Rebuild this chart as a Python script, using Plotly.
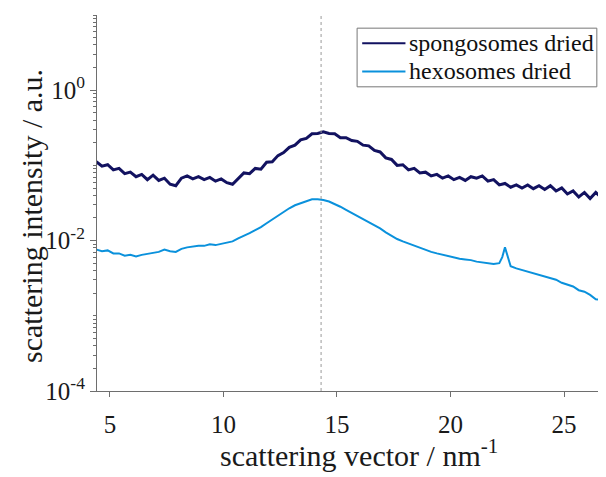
import plotly.graph_objects as go

# scattering vector (nm^-1) for spongosomes dried
q_spongo = [4.40, 4.65, 4.90, 5.15, 5.40, 5.65, 5.90, 6.15, 6.40, 6.65, 6.90, 7.15, 7.40, 7.65, 7.90,
            8.15, 8.40, 8.65, 8.90, 9.15, 9.40, 9.65, 9.90, 10.15, 10.40, 10.65, 10.90, 11.15, 11.40,
            11.65, 11.90, 12.15, 12.40, 12.65, 12.90, 13.15, 13.40, 13.65, 13.90, 14.15, 14.40, 14.65,
            14.90, 15.15, 15.40, 15.65, 15.90, 16.15, 16.40, 16.65, 16.90, 17.15, 17.40, 17.65, 17.90,
            18.15, 18.40, 18.65, 18.90, 19.15, 19.40, 19.65, 19.90, 20.15, 20.40, 20.65, 20.90, 21.15,
            21.40, 21.65, 21.90, 22.15, 22.40, 22.65, 22.90, 23.15, 23.40, 23.65, 23.90, 24.15, 24.40,
            24.65, 24.90, 25.15, 25.40, 25.65, 25.90, 26.15, 26.40, 26.65, 26.90]
i_spongo = [0.112, 0.0977, 0.102, 0.0871, 0.0912, 0.0776, 0.0813, 0.0708, 0.0759, 0.0646, 0.0741,
            0.0631, 0.0676, 0.0562, 0.0537, 0.0676, 0.0724, 0.0661, 0.0708, 0.0646, 0.0692, 0.0617,
            0.0661, 0.0589, 0.0562, 0.0661, 0.0794, 0.0776, 0.0912, 0.0891, 0.110, 0.112, 0.135,
            0.148, 0.174, 0.186, 0.219, 0.229, 0.263, 0.266, 0.279, 0.266, 0.263, 0.234, 0.234,
            0.214, 0.209, 0.186, 0.182, 0.158, 0.151, 0.126, 0.120, 0.100, 0.102, 0.0871, 0.0912,
            0.0794, 0.0813, 0.0724, 0.0759, 0.0676, 0.0724, 0.0646, 0.0692, 0.0631, 0.0708, 0.0676,
            0.0724, 0.0617, 0.0646, 0.0550, 0.0575, 0.0513, 0.0550, 0.0501, 0.0550, 0.0490, 0.0537,
            0.0479, 0.0537, 0.0457, 0.0501, 0.0417, 0.0457, 0.0380, 0.0437, 0.0363, 0.0437, 0.0372,
            0.0447]

# scattering vector (nm^-1) for hexosomes dried
q_hexo = [4.40, 4.65, 4.90, 5.15, 5.40, 5.65, 5.90, 6.15, 6.40, 6.65, 6.90, 7.15, 7.40, 7.65, 7.90,
          8.15, 8.40, 8.65, 8.90, 9.15, 9.40, 9.65, 9.90, 10.15, 10.40, 10.65, 10.90, 11.15, 11.40,
          11.65, 11.90, 12.15, 12.40, 12.65, 12.90, 13.15, 13.40, 13.65, 13.90, 14.15, 14.40, 14.65,
          14.90, 15.15, 15.40, 15.65, 15.90, 16.15, 16.40, 16.65, 16.90, 17.15, 17.40, 17.65, 17.90,
          18.15, 18.40, 18.65, 18.90, 19.15, 19.40, 19.65, 19.90, 20.15, 20.40, 20.65, 20.90, 21.15,
          21.40, 21.65, 21.90, 22.15, 22.28, 22.40, 22.52, 22.65, 22.90, 23.15, 23.40, 23.65, 23.90,
          24.15, 24.40, 24.65, 24.90, 25.15, 25.40, 25.65, 25.90, 26.15, 26.40, 26.65, 26.90]
i_hexo = [0.00759, 0.00724, 0.00741, 0.00676, 0.00676, 0.00631, 0.00646, 0.00617, 0.00646, 0.00661,
          0.00692, 0.00708, 0.00759, 0.00724, 0.00708, 0.00776, 0.00813, 0.00832, 0.00851, 0.00851,
          0.00891, 0.00871, 0.00912, 0.00933, 0.00977, 0.0107, 0.0115, 0.0126, 0.0138, 0.0151,
          0.0170, 0.0191, 0.0214, 0.0240, 0.0269, 0.0295, 0.0316, 0.0339, 0.0355, 0.0355, 0.0347,
          0.0331, 0.0309, 0.0282, 0.0257, 0.0234, 0.0214, 0.0195, 0.0178, 0.0158, 0.0145, 0.0129,
          0.0115, 0.0105, 0.00977, 0.00912, 0.00851, 0.00794, 0.00741, 0.00708, 0.00676, 0.00646,
          0.00617, 0.00603, 0.00575, 0.00562, 0.00550, 0.00525, 0.00513, 0.00501, 0.00490, 0.00501,
          0.00603, 0.00813, 0.00603, 0.00457, 0.00427, 0.00407, 0.00389, 0.00372, 0.00355, 0.00339,
          0.00324, 0.00302, 0.00275, 0.00257, 0.00245, 0.00219, 0.00209, 0.00190, 0.00166, 0.00162,
          0.00132]

series_names = ["spongosomes dried", "hexosomes dried"]
series_colors = ["#121260", "#0a91dc"]
peak_q = 14.3
x_ticks = [5, 10, 15, 20, 25]
y_ticks = [1e-4, 1e-2, 1e0]
y_tick_text = ["10<sup>-4</sup>", "10<sup>-2</sup>", "10<sup>0</sup>"]
y_minor = [k * 10.0 ** e for e in range(-4, 1) for k in range(2, 11)]

FONT = "Liberation Serif"
AX = "#6e6e6e"
TXT = "#1a1a1a"

fig = go.Figure()
fig.add_trace(go.Scatter(x=q_spongo, y=i_spongo, mode="lines", name=series_names[0],
                         line=dict(color=series_colors[0], width=3)))
fig.add_trace(go.Scatter(x=q_hexo, y=i_hexo, mode="lines", name=series_names[1],
                         line=dict(color=series_colors[1], width=2.0)))
fig.add_vline(x=peak_q, line=dict(color="#9a9a9a", width=1, dash="dot"))

# page body has an 8px default margin: figure is sized/offset to compensate
fig.update_layout(
    width=598, height=469,
    margin=dict(l=89, r=0, t=7, b=86),
    paper_bgcolor="white", plot_bgcolor="white",
    font=dict(family=FONT, size=25, color=TXT),
    showlegend=False,
    xaxis=dict(range=[4.43, 26.85], tickmode="array", tickvals=x_ticks,
               showgrid=False, zeroline=False, showline=True, linecolor=AX, linewidth=1.2,
               ticks="outside", ticklen=5, tickcolor=AX, ticklabelstandoff=6,
               tickfont=dict(family=FONT, size=25, color=TXT)),
    yaxis=dict(type="log", range=[-4, 1], tickmode="array", tickvals=y_ticks, ticktext=y_tick_text,
               showgrid=False, zeroline=False, showline=True, linecolor=AX, linewidth=1.2,
               ticks="outside", ticklen=6, tickcolor=AX,
               tickfont=dict(family=FONT, size=25, color=TXT),
               minor=dict(tickmode="array", tickvals=y_minor, ticks="outside", ticklen=3,
                          tickcolor=AX, showgrid=False)),
)

# legend box drawn by hand
fig.add_shape(type="rect", xref="paper", yref="paper", x0=0.511, x1=0.982, y0=0.809, y1=0.965,
              line=dict(color="#777777", width=1), fillcolor="white", layer="above")
legend_rows = [0.925, 0.850]
for name, color, yrow in zip(series_names, series_colors, legend_rows):
    fig.add_shape(type="line", xref="paper", yref="paper", x0=0.521, x1=0.606, y0=yrow, y1=yrow,
                  line=dict(color=color, width=2), layer="above")
    fig.add_annotation(text=name, xref="paper", yref="paper", x=0.609, y=yrow,
                       xanchor="left", yanchor="middle", showarrow=False,
                       font=dict(family=FONT, size=24, color="#111111"))

fig.add_annotation(text="scattering vector / nm<sup>-1</sup>", xref="paper", yref="paper",
                   x=0.515, y=-0.165, xanchor="center", yanchor="middle", showarrow=False,
                   font=dict(family=FONT, size=30, color=TXT))
fig.add_annotation(text="scattering intensity / a.u.", xref="paper", yref="paper",
                   x=-0.13, y=0.465, xanchor="center", yanchor="middle", showarrow=False,
                   textangle=-90, font=dict(family=FONT, size=30, color=TXT))

fig.write_html("out.html")
